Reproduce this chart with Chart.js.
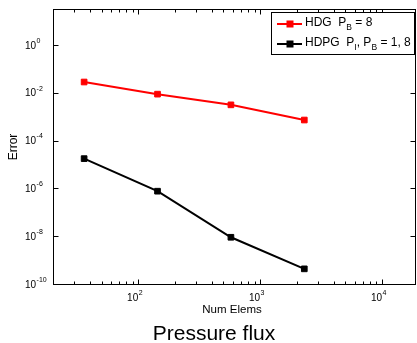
<!DOCTYPE html>
<html>
<head>
<meta charset="utf-8">
<script src="https://cdn.jsdelivr.net/npm/chart.js@4/dist/chart.umd.min.js"></script>
<style>
  html, body { margin: 0; padding: 0; background: #fff; }
  #chart { display: block; }
</style>
</head>
<body>
<canvas id="chart" width="417" height="343"></canvas>
<script>
// Values (log-log convergence plot).
var numElems = [36, 144, 576, 2304];
var hdgError = [0.028, 0.0087, 0.0031, 0.00072];
var hdpgError = [1.75e-5, 7.6e-7, 9.0e-9, 4.3e-10];

// Axis limits and labelled decades.
var xMin = 20;
var xMax = 19000;
var yMin = 1e-10;
var yMax = Math.pow(10, 1.5);
var xTickExps = [2, 3, 4];
var yTickExps = [0, -2, -4, -6, -8, -10];

// Texts.
var xTitle = 'Num Elems';
var yTitle = 'Error';
var chartTitle = 'Pressure flux';
// Legend entries: plain text, then [text, isSubscript] pieces.
var legendEntries = [
  {color: '#ff0000', parts: [['HDG  P', false], ['B', true], [' = 8', false]]},
  {color: '#000000', parts: [['HDPG  P', false], ['I', true], [', P', false],
                             ['B', true], [' = 1, 8', false]]}
];

var FONT = '"Liberation Sans", Arial, Helvetica, sans-serif';

function toPoints(xs, ys) {
  var pts = [];
  for (var i = 0; i < xs.length; ++i)
    pts.push({x: xs[i], y: ys[i]});
  return pts;
}

/**
 * Draws a "10" with a raised exponent. align is 'left' (start at x) or
 * 'tick' (the "10" ends at x, the exponent follows).
 */
function drawPower(ctx, exp, x, y, align, baseSize) {
  ctx.font = baseSize + 'px ' + FONT;
  ctx.textBaseline = 'middle';
  ctx.textAlign = 'left';
  var w = ctx.measureText('10').width;
  var x0 = align === 'left' ? x : x - w;
  ctx.fillText('10', x0, y + 1);
  ctx.font = '7px ' + FONT;
  ctx.fillText(String(exp), x0 + w + 0.5, y - 4);
}

/**
 * Box, inward ticks, labels, titles and legend, MATLAB style.
 */
var matlabAxes = {
  id: 'matlabAxes',
  afterDraw: function(chart) {
    var ctx = chart.ctx;
    var a = chart.chartArea;
    var xs = chart.scales.x;
    var ys = chart.scales.y;
    var L = Math.round(a.left) + 0.5, R = Math.round(a.right) - 0.5;
    var T = Math.round(a.top) + 0.5, B = Math.round(a.bottom) + 0.5;

    ctx.save();
    ctx.strokeStyle = '#000';
    ctx.fillStyle = '#000';
    ctx.lineWidth = 1;

    // y ticks (major only)
    ctx.beginPath();
    yTickExps.forEach(function(e) {
      var py = Math.round(ys.getPixelForValue(Math.pow(10, e))) + 0.5;
      ctx.moveTo(L, py); ctx.lineTo(L + 5, py);
      ctx.moveTo(R, py); ctx.lineTo(R - 5, py);
    });
    // x ticks, major and minor
    for (var k = 1; k <= 4; ++k) {
      for (var m = 1; m <= 9; ++m) {
        var v = m * Math.pow(10, k);
        if (v < xMin || v > xMax) continue;
        var px = Math.round(xs.getPixelForValue(v)) + 0.5;
        var len = m === 1 ? 5 : 3;
        ctx.moveTo(px, B); ctx.lineTo(px, B - len);
        ctx.moveTo(px, T); ctx.lineTo(px, T + len);
      }
    }
    ctx.stroke();

    // tick labels
    yTickExps.forEach(function(e) {
      drawPower(ctx, e, 25, ys.getPixelForValue(Math.pow(10, e)), 'left', 10);
    });
    xTickExps.forEach(function(e) {
      drawPower(ctx, e, xs.getPixelForValue(Math.pow(10, e)), 297, 'tick', 10);
    });

    // axis titles and title
    ctx.textAlign = 'center';
    ctx.textBaseline = 'middle';
    ctx.font = '11.5px ' + FONT;
    ctx.fillText(xTitle, 232, 310);
    ctx.save();
    ctx.translate(13.5, 147);
    ctx.rotate(-Math.PI / 2);
    ctx.font = '12px ' + FONT;
    ctx.fillText(yTitle, 0, 0);
    ctx.restore();
    ctx.font = '21px ' + FONT;
    ctx.fillText(chartTitle, 214, 334);

    // legend
    var bx = 271.5, by = 12.5, bw = 143, bh = 42;
    ctx.fillStyle = '#fff';
    ctx.fillRect(bx, by, bw, bh);
    ctx.strokeRect(bx, by, bw, bh);
    legendEntries.forEach(function(entry, i) {
      var ly = 24 + i * 20;
      ctx.strokeStyle = entry.color;
      ctx.fillStyle = entry.color;
      ctx.lineWidth = 2;
      ctx.beginPath();
      ctx.moveTo(277, ly); ctx.lineTo(302, ly);
      ctx.stroke();
      ctx.fillRect(286.5, ly - 3.5, 7, 7);
      ctx.fillStyle = '#000';
      ctx.textAlign = 'left';
      ctx.textBaseline = 'middle';
      var tx = 305;
      entry.parts.forEach(function(p) {
        ctx.font = (p[1] ? '8.5px ' : '12px ') + FONT;
        ctx.fillText(p[0], tx, p[1] ? ly + 3.5 : ly - 1);
        tx += ctx.measureText(p[0]).width;
      });
    });

    // box on top of everything
    ctx.strokeStyle = '#000';
    ctx.lineWidth = 1;
    ctx.strokeRect(L, T, R - L, B - T);
    ctx.restore();
  }
};

new Chart(document.getElementById('chart'), {
  type: 'line',
  data: {
    datasets: [
      {
        label: 'HDG',
        data: toPoints(numElems, hdgError),
        borderColor: '#ff0000',
        backgroundColor: '#ff0000',
        borderWidth: 2,
        pointStyle: 'rect',
        pointRadius: 4,
        pointBorderWidth: 1
      },
      {
        label: 'HDPG',
        data: toPoints(numElems, hdpgError),
        borderColor: '#000000',
        backgroundColor: '#000000',
        borderWidth: 2,
        pointStyle: 'rect',
        pointRadius: 4,
        pointBorderWidth: 1
      }
    ]
  },
  options: {
    responsive: false,
    animation: false,
    devicePixelRatio: 1,
    layout: {autoPadding: false, padding: {left: 53, right: 1, top: 9, bottom: 59}},
    plugins: {legend: {display: false}, tooltip: {enabled: false}},
    scales: {
      x: {type: 'logarithmic', min: xMin, max: xMax, display: false},
      y: {type: 'logarithmic', min: yMin, max: yMax, display: false}
    }
  },
  plugins: [matlabAxes]
});
</script>
</body>
</html>
